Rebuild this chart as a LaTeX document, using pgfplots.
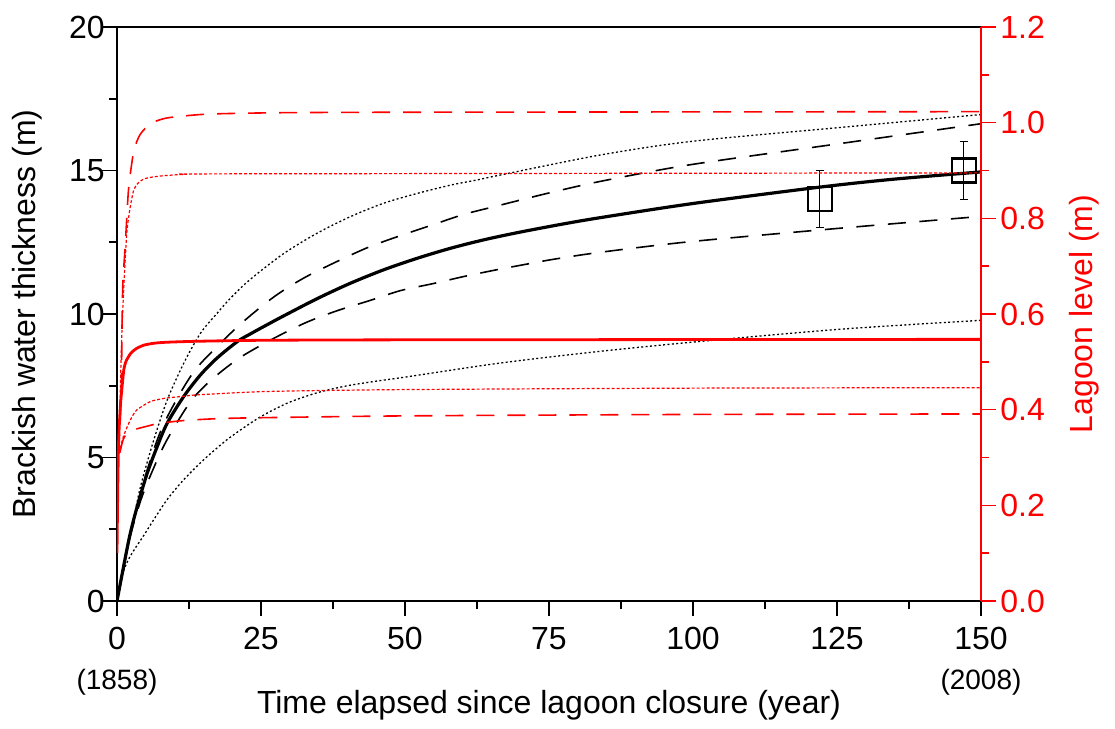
\documentclass[border=0pt]{standalone}
\usepackage{fontspec}
\setmainfont{Liberation Sans}
\usepackage{pgfplots}
\pgfplotsset{compat=1.18}
\begin{document}
\begin{tikzpicture}
\pgfplotsset{
  every axis/.append style={
    width=432pt, height=287pt, scale only axis,
    xmin=0, xmax=150,
    tick align=outside,
    major tick length=7.5pt, minor tick length=4pt,
    font=\fontsize{16}{19}\selectfont,
    /pgf/number format/assume math mode=true,
    every tick label/.append style={inner sep=0pt},
  },
}
% thickness (left axis)
\begin{axis}[
  axis line style={line width=0.9pt},
  xtick={0,25,...,150}, minor x tick num=1,
  ymin=0, ymax=20, ytick={0,5,...,20}, minor y tick num=1,
  xtick pos=left, ytick pos=left,
  xtick style={line width=0.8pt, black}, ytick style={line width=0.8pt, black},
  xticklabel style={yshift=-5.5pt},
  yticklabel style={xshift=1.5pt},
  xlabel={Time elapsed since lagoon closure (year)},
  ylabel={Brackish water thickness (m)},
  xlabel style={at={(axis description cs:0.5,-0.181)}, anchor=center},
  ylabel style={at={(axis description cs:-0.104,0.5)}, anchor=center},
]
\coordinate (bbSW) at ([xshift=-58.5pt,yshift=-64pt]rel axis cs:0,0);
\coordinate (bbNE) at ([xshift=67pt,yshift=13.5pt]rel axis cs:1,1);
\coordinate (x0) at (axis cs:0,0);
\coordinate (x150) at (axis cs:150,0);

% upper dotted
\addplot[black, line width=0.65pt, dash pattern=on 1pt off 1.2pt, smooth] coordinates {
(0,0) (1.4,1.4) (2.8,2.75) (4.1,4.0) (6.4,5.62) (8.73,7.01) (11.6,8.29) (14.5,9.33)
(17.4,10.03) (19.7,10.55) (23.1,11.2) (28.9,12.1) (34.7,12.81) (40.5,13.39) (46.3,13.86)
(52.1,14.2) (57.9,14.49) (62.5,14.67) (66.5,14.84) (83.9,15.54) (100,16.02) (125.6,16.5) (150,16.95)};
% upper dashed
\addplot[black, line width=0.8pt, dash pattern=on 9pt off 6.8pt, smooth] coordinates {
(0,0) (2.1,2.15) (4.2,3.85) (6.4,5.28) (8.2,6.2) (11,7.25) (13.6,8.06) (16.8,8.75)
(21.5,9.66) (27.2,10.59) (32.4,11.25) (38.2,11.83) (43.7,12.33) (49.2,12.73) (54.7,13.1)
(60.2,13.47) (65.7,13.75) (71.2,14.03) (75.9,14.26) (83.9,14.62) (99.5,15.2) (125.6,15.94) (150,16.63)};
% solid
\addplot[black, line width=1.6pt, smooth] coordinates {
(0,0) (2.08,2.15) (3.52,3.3) (5.26,4.46) (7,5.39) (8.73,6.2) (11.6,7.13) (14.5,7.88)
(17.4,8.47) (20.9,9.04) (23.1,9.3) (26.1,9.63) (28.9,9.93) (34.7,10.53) (40.5,11.07)
(46.3,11.54) (52.1,11.94) (57.9,12.29) (63.6,12.58) (69.4,12.83) (77,13.12) (84,13.36)
(100,13.85) (122,14.42) (135,14.7) (150,14.95)};
% lower dashed
\addplot[black, line width=0.8pt, dash pattern=on 9pt off 6.8pt, smooth] coordinates {
(0,0) (2.1,2.1) (4.2,3.55) (6.4,4.65) (8.5,5.55) (11.6,6.6) (13.8,7.2) (17.1,7.83)
(21.5,8.5) (27.3,9.16) (32.9,9.71) (38.3,10.12) (43.9,10.47) (49.3,10.82) (54.9,11.06)
(60.3,11.31) (65.9,11.54) (71.2,11.74) (75.9,11.91) (83.9,12.15) (99.5,12.52) (125.6,12.99) (150,13.4)};
% lower dotted
\addplot[black, line width=0.65pt, dash pattern=on 1pt off 1.2pt, smooth] coordinates {
(0,0) (1,0.95) (2,1.45) (3.2,1.85) (4.7,2.3) (6.4,2.84) (8.73,3.54) (11.6,4.23)
(15.1,4.93) (19.1,5.62) (23.2,6.2) (26.1,6.55) (30,6.93) (35,7.27) (40,7.5) (45,7.66)
(50,7.8) (66.5,8.29) (83.9,8.7) (101,9.04) (125.6,9.47) (150,9.78)};
% observations
\addplot[black, only marks, mark=square, mark size=6pt, mark options={line width=1.2pt},
  error bars/.cd, y dir=both, y explicit,
  error bar style={line width=0.6pt},
  error mark options={rotate=90, mark size=2pt, line width=0.6pt}]
coordinates {(122,14) +- (0,1) (147,15) +- (0,1)};
\end{axis}

% lagoon level (right axis)
\begin{axis}[
  axis x line=none, axis y line*=right,
  y axis line style={red, line width=0.9pt},
  ymin=0, ymax=1.2, ytick={0,0.2,...,1.2}, minor y tick num=1,
  ytick style={red, line width=0.8pt},
  yticklabel style={red, xshift=2pt, /pgf/number format/fixed, /pgf/number format/fixed zerofill, /pgf/number format/precision=1},
  ylabel={Lagoon level (m)},
  ylabel style={red, at={(axis description cs:1.12,0.5)}, anchor=center},
]
\addplot[red, line width=0.8pt, dash pattern=on 9pt off 6.5pt, smooth, tension=0.4] coordinates {
(0.2,0.31) (0.5,0.36) (0.75,0.45) (0.9,0.6) (1.04,0.67) (1.44,0.745) (2.0,0.86)
(2.9,0.94) (4.0,0.975) (5.8,0.998) (8,1.008) (10,1.012) (16,1.018) (30,1.021)
(60,1.022) (150,1.023)};
\addplot[red, line width=0.6pt, dash pattern=on 1.5pt off 1pt, smooth, tension=0.4] coordinates {
(0.2,0.31) (0.45,0.38) (0.7,0.5) (0.9,0.58) (1.2,0.66) (1.7,0.77) (2.3,0.824)
(2.9,0.859) (3.6,0.873) (4.6,0.882) (6,0.886) (8,0.889) (12,0.892) (20,0.893) (150,0.895)};
\addplot[red, line width=1.4pt, smooth, tension=0.4] coordinates {
(0,0.10) (0.15,0.25) (0.3,0.34) (0.6,0.41) (0.9,0.45) (1.2,0.485) (1.6,0.502)
(2.4,0.518) (3.4,0.528) (4.7,0.535) (6.5,0.539) (8.7,0.541) (14,0.543) (25,0.545)
(50,0.546) (150,0.547)};
\addplot[red, line width=0.6pt, dash pattern=on 1.5pt off 1pt, smooth, tension=0.4] coordinates {
(0.2,0.31) (0.6,0.32) (1.0,0.34) (1.8,0.365) (2.6,0.385) (3.5,0.40) (5.8,0.417)
(8.4,0.424) (11.6,0.428) (14,0.431) (26,0.438) (50,0.442) (100,0.445) (150,0.446)};
\addplot[red, line width=0.8pt, dash pattern=on 9pt off 6.5pt, smooth, tension=0.4] coordinates {
(0.5,0.31) (1.0,0.335) (1.5,0.347) (2.5,0.355) (3.5,0.36) (5.4,0.366) (7.2,0.371)
(11.3,0.377) (17,0.381) (24,0.383) (50,0.387) (100,0.390) (150,0.391)};
\end{axis}
\node[font=\fontsize{14}{16}\selectfont] at ([yshift=-40.5pt]x0) {(1858)};
\node[font=\fontsize{14}{16}\selectfont] at ([yshift=-40.5pt]x150) {(2008)};
\pgfresetboundingbox
\path[use as bounding box] (bbSW) rectangle (bbNE);
\end{tikzpicture}
\end{document}
